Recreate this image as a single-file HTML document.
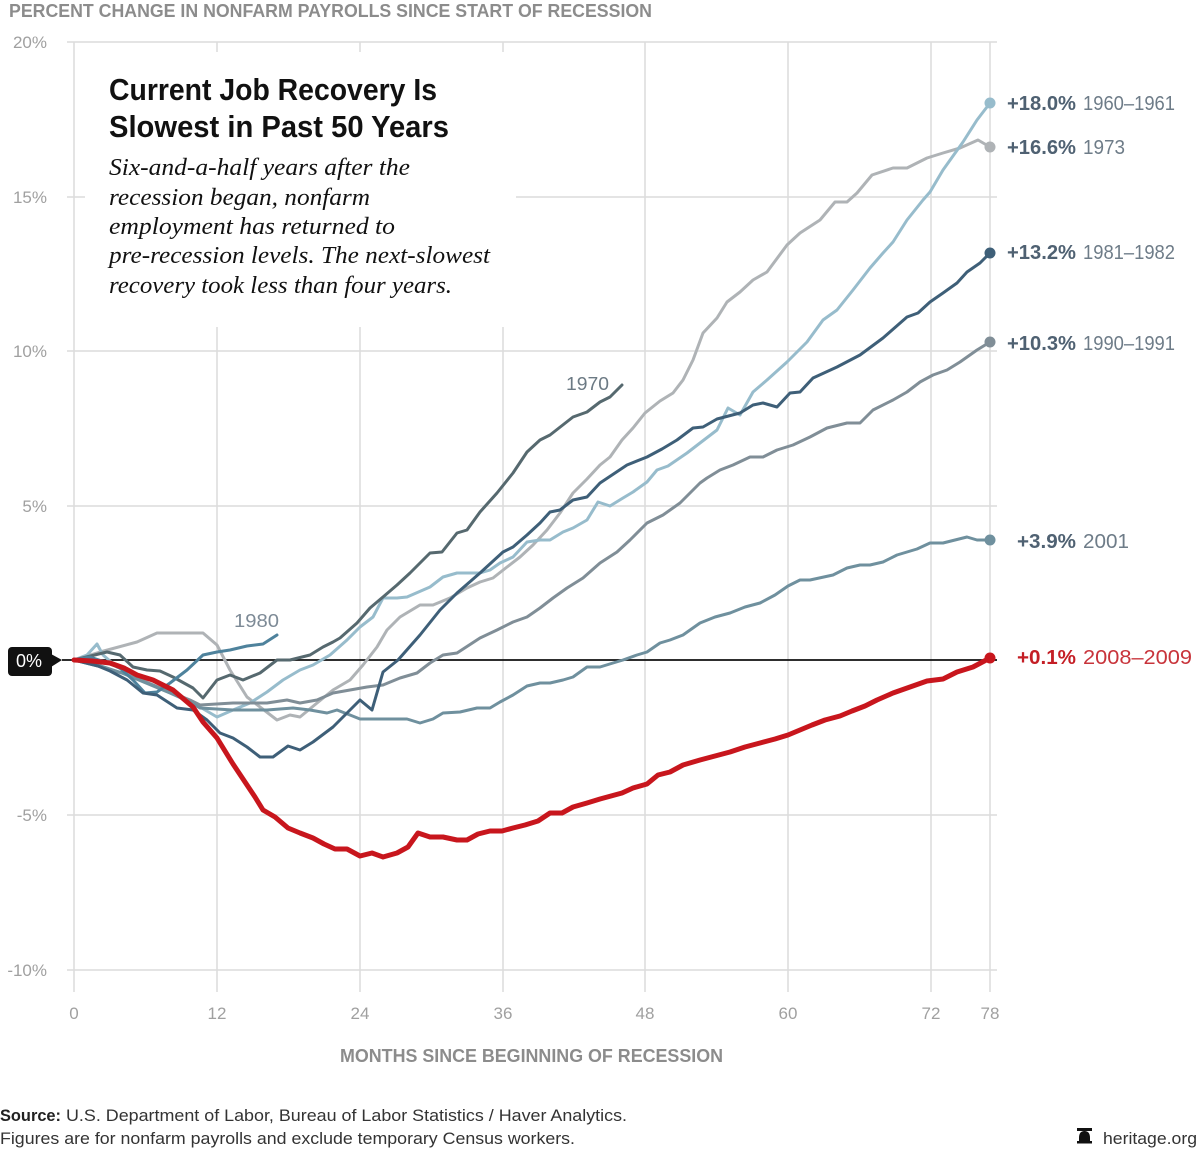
<!DOCTYPE html>
<html>
<head>
<meta charset="utf-8">
<style>
  html, body { margin: 0; padding: 0; background: #ffffff; }
  svg { display: block; }
  text { font-family: "Liberation Sans", "DejaVu Sans", sans-serif; }
  .serif { font-family: "Liberation Serif", "DejaVu Serif", serif; }
</style>
</head>
<body>
<svg width="1200" height="1151" viewBox="0 0 1200 1151" xmlns="http://www.w3.org/2000/svg">
  <rect x="0" y="0" width="1200" height="1151" fill="#ffffff"/>

  <!-- Header -->
  <text x="9" y="17" font-size="18" font-weight="bold" fill="#8c8c8c" textLength="643" lengthAdjust="spacingAndGlyphs">PERCENT CHANGE IN NONFARM PAYROLLS SINCE START OF RECESSION</text>

  <!-- Horizontal gridlines -->
  <g stroke="#dcdcdc" stroke-width="1.5">
    <line x1="67" y1="42" x2="997" y2="42"/>
    <line x1="67" y1="197" x2="997" y2="197"/>
    <line x1="67" y1="351" x2="997" y2="351"/>
    <line x1="67" y1="506" x2="997" y2="506"/>
    <line x1="67" y1="815" x2="997" y2="815"/>
    <line x1="67" y1="970" x2="997" y2="970"/>
  </g>
  <!-- Vertical gridlines -->
  <g stroke="#dcdcdc" stroke-width="1.5">
    <line x1="74" y1="42" x2="74" y2="992"/>
    <line x1="217" y1="42" x2="217" y2="992"/>
    <line x1="360" y1="42" x2="360" y2="992"/>
    <line x1="503" y1="42" x2="503" y2="992"/>
    <line x1="645" y1="42" x2="645" y2="992"/>
    <line x1="788" y1="42" x2="788" y2="992"/>
    <line x1="931" y1="42" x2="931" y2="992"/>
    <line x1="990" y1="42" x2="990" y2="992"/>
  </g>

  <!-- Title box (white, covers grid) -->
  <rect x="85" y="52" width="431" height="275" fill="#ffffff"/>

  <!-- Title -->
  <text x="109" y="100" font-size="31" font-weight="bold" fill="#111111" textLength="328" lengthAdjust="spacingAndGlyphs">Current Job Recovery Is</text>
  <text x="109" y="137" font-size="31" font-weight="bold" fill="#111111" textLength="340" lengthAdjust="spacingAndGlyphs">Slowest in Past 50 Years</text>
  <g class="serif" font-size="24" font-style="italic" fill="#111111">
    <text class="serif" x="109" y="175" textLength="301" lengthAdjust="spacingAndGlyphs">Six-and-a-half years after the</text>
    <text class="serif" x="109" y="205" textLength="261" lengthAdjust="spacingAndGlyphs">recession began, nonfarm</text>
    <text class="serif" x="109" y="234" textLength="286" lengthAdjust="spacingAndGlyphs">employment has returned to</text>
    <text class="serif" x="109" y="263" textLength="381" lengthAdjust="spacingAndGlyphs">pre-recession levels. The next-slowest</text>
    <text class="serif" x="109" y="293" textLength="343" lengthAdjust="spacingAndGlyphs">recovery took less than four years.</text>
  </g>

  <!-- Y axis labels -->
  <g font-size="17" fill="#a0a0a0" text-anchor="end">
    <text x="47" y="48">20%</text>
    <text x="47" y="203">15%</text>
    <text x="47" y="357">10%</text>
    <text x="47" y="512">5%</text>
    <text x="47" y="821">-5%</text>
    <text x="47" y="976">-10%</text>
  </g>

  <!-- X axis labels -->
  <g font-size="17" fill="#a0a0a0" text-anchor="middle">
    <text x="74" y="1019">0</text>
    <text x="217" y="1019">12</text>
    <text x="360" y="1019">24</text>
    <text x="503" y="1019">36</text>
    <text x="645" y="1019">48</text>
    <text x="788" y="1019">60</text>
    <text x="931" y="1019">72</text>
    <text x="990" y="1019">78</text>
  </g>
  <text x="340" y="1062" font-size="18" font-weight="bold" fill="#8c8c8c" textLength="383" lengthAdjust="spacingAndGlyphs">MONTHS SINCE BEGINNING OF RECESSION</text>

  <!-- Zero line -->
  <line x1="62" y1="660" x2="997" y2="660" stroke="#111111" stroke-width="1.8"/>
  <!-- 0% badge -->
  <rect x="8" y="647" width="44" height="29" rx="4" ry="4" fill="#111111"/>
  <polygon points="51,654 62,660 51,667" fill="#111111"/>
  <text x="29" y="667" font-size="18" fill="#ffffff" text-anchor="middle">0%</text>

  <!-- Series -->
  <g fill="none" stroke-linejoin="round" stroke-linecap="round" stroke-width="3">
    <!-- 1973 -->
    <polyline stroke="#afb3b6" points="74,660 100,652 137,642 157,633 203,633 217,645 230,670 247,697 277,720 290,715 300,717 317,703 333,690 350,680 363,665 377,647 387,630 400,617 420,605 433,605 450,598 467,588 480,582 493,578 507,567 520,557 533,545 547,530 560,513 573,493 587,479 600,465 610,457 622,440 633,428 645,413 660,401 673,393 683,380 693,360 703,333 717,318 727,302 740,292 753,280 767,272 787,245 800,233 820,220 835,202 847,202 857,193 872,175 893,168 907,168 927,158 943,153 960,148 978,140 990,147"/>
    <!-- 1960-1961 -->
    <polyline stroke="#97bccc" points="74,660 87,655 97,644 103,655 117,667 133,675 150,680 167,687 183,697 200,707 217,717 233,710 250,703 267,692 283,680 300,670 313,665 330,655 347,640 360,627 373,617 383,598 397,598 407,597 430,587 443,577 457,573 480,573 490,570 500,563 513,557 527,542 540,540 550,540 563,532 573,528 587,520 598,502 610,506 623,498 633,492 647,482 657,470 668,466 687,453 700,443 717,430 728,408 740,415 753,392 767,380 787,362 807,342 823,320 837,310 853,290 870,268 883,253 893,242 907,220 923,200 930,192 943,170 963,142 977,120 990,103"/>
    <!-- 1990-1991 -->
    <polyline stroke="#808e97" points="74,660 98,666 122,673 146,682 170,692 190,700 200,705 233,703 267,703 287,700 300,703 317,700 333,693 350,690 367,687 383,685 400,678 417,673 430,663 443,655 457,653 480,638 497,630 513,622 527,617 540,608 553,598 567,588 583,578 600,563 617,552 630,540 647,523 663,515 680,503 700,483 707,478 720,470 733,465 750,457 763,457 777,450 793,445 810,437 827,428 847,423 860,423 873,410 893,400 907,392 920,382 933,375 947,370 960,362 977,350 990,342"/>
    <!-- 2001 -->
    <polyline stroke="#6f909e" points="74,660 98,665 122,673 146,683 170,693 190,702 200,708 233,710 267,710 293,708 310,710 327,713 337,710 350,715 360,719 377,719 407,719 420,723 433,719 443,713 460,712 477,708 490,708 500,702 513,695 527,686 540,683 550,683 563,680 573,677 587,667 600,667 613,663 623,660 637,655 647,652 660,643 670,640 683,635 700,623 715,617 730,613 745,607 760,603 775,595 788,586 800,580 810,580 833,575 847,568 860,565 870,565 883,562 897,555 917,549 930,543 943,543 967,537 977,540 990,540"/>
    <!-- 1970 -->
    <polyline stroke="#56696f" points="74,660 107,652 120,655 133,667 147,670 160,671 173,677 193,688 203,698 217,680 230,675 243,680 260,673 277,660 290,660 310,655 323,647 333,642 340,638 357,623 370,608 383,597 397,585 410,573 430,553 442,552 457,533 467,530 480,512 497,493 513,473 527,452 540,440 550,435 573,417 587,412 600,402 610,397 622,385"/>
    <!-- 1980 -->
    <polyline stroke="#4e829c" points="74,660 90,657 105,662 120,668 133,680 145,693 157,692 170,683 187,670 203,655 217,652 230,650 247,646 263,644 277,635"/>
    <!-- 1981-1982 -->
    <polyline stroke="#3e5f78" points="74,660 86,663 98,666 110,671 127,680 143,693 157,695 177,708 193,710 207,720 220,733 233,738 247,747 260,757 273,757 288,746 300,750 313,742 333,727 347,713 360,700 372,710 383,672 398,660 420,635 440,610 457,593 480,573 503,552 513,547 527,535 540,523 550,512 560,510 573,500 587,497 600,483 612,475 627,465 647,457 662,449 677,440 693,428 703,427 717,419 740,413 753,405 763,403 777,407 790,393 800,392 813,378 837,367 860,355 883,338 907,317 918,313 930,302 943,293 957,283 967,272 980,263 990,253"/>
    <!-- 2008-2009 -->
    <polyline stroke="#c8161d" stroke-width="5" points="74,660 92,661 110,663 124,668 137,675 153,680 173,690 193,707 203,722 217,738 233,764 245,782 255,797 263,810 275,817 288,828 300,833 313,838 324,844 335,849 347,849 360,856 372,853 383,857 397,853 408,847 418,833 430,837 443,837 457,840 467,840 478,834 490,831 502,831 513,828 525,825 538,821 550,813 562,813 573,807 587,803 600,799 611,796 622,793 633,788 647,784 658,775 670,772 683,765 700,760 715,756 730,752 745,747 760,743 775,739 788,735 800,730 812,725 825,720 840,716 852,711 865,706 877,700 893,693 910,687 927,681 943,679 957,672 973,667 990,658"/>
  </g>

  <!-- Series labels -->
  <text x="566" y="390" font-size="18" fill="#6c7a84" textLength="43" lengthAdjust="spacingAndGlyphs">1970</text>
  <text x="234" y="627" font-size="18" fill="#7d8a96" textLength="45" lengthAdjust="spacingAndGlyphs">1980</text>

  <!-- End dots -->
  <circle cx="990" cy="103" r="5.5" fill="#97bccc"/>
  <circle cx="990" cy="147" r="5.5" fill="#afb3b6"/>
  <circle cx="990" cy="253" r="5.5" fill="#3e5f78"/>
  <circle cx="990" cy="342" r="5.5" fill="#808e97"/>
  <circle cx="990" cy="540" r="5.5" fill="#6f909e"/>
  <circle cx="990" cy="658" r="5.5" fill="#c8161d"/>

  <!-- End labels -->
  <g font-size="20">
    <text x="1007" y="110" font-weight="bold" fill="#4f6172" textLength="69" lengthAdjust="spacingAndGlyphs">+18.0%</text>
    <text x="1083" y="110" fill="#6e7c88" textLength="92" lengthAdjust="spacingAndGlyphs">1960–1961</text>

    <text x="1007" y="154" font-weight="bold" fill="#4f6172" textLength="69" lengthAdjust="spacingAndGlyphs">+16.6%</text>
    <text x="1083" y="154" fill="#6e7c88" textLength="42" lengthAdjust="spacingAndGlyphs">1973</text>

    <text x="1007" y="259" font-weight="bold" fill="#4f6172" textLength="69" lengthAdjust="spacingAndGlyphs">+13.2%</text>
    <text x="1083" y="259" fill="#6e7c88" textLength="92" lengthAdjust="spacingAndGlyphs">1981–1982</text>

    <text x="1007" y="350" font-weight="bold" fill="#4f6172" textLength="69" lengthAdjust="spacingAndGlyphs">+10.3%</text>
    <text x="1083" y="350" fill="#6e7c88" textLength="92" lengthAdjust="spacingAndGlyphs">1990–1991</text>

    <text x="1017" y="548" font-weight="bold" fill="#4f6172" textLength="59" lengthAdjust="spacingAndGlyphs">+3.9%</text>
    <text x="1083" y="548" fill="#6e7c88" textLength="46" lengthAdjust="spacingAndGlyphs">2001</text>

    <text x="1017" y="664" font-weight="bold" fill="#c41e25" textLength="59" lengthAdjust="spacingAndGlyphs">+0.1%</text>
    <text x="1083" y="664" fill="#c8343b" textLength="109" lengthAdjust="spacingAndGlyphs">2008–2009</text>
  </g>

  <!-- Footer -->
  <text x="0" y="1121" font-size="17" font-weight="bold" fill="#222222" textLength="61" lengthAdjust="spacingAndGlyphs">Source:</text>
  <text x="66" y="1121" font-size="17" fill="#333333" textLength="561" lengthAdjust="spacingAndGlyphs">U.S. Department of Labor, Bureau of Labor Statistics / Haver Analytics.</text>
  <text x="0" y="1144" font-size="17" fill="#333333" textLength="575" lengthAdjust="spacingAndGlyphs">Figures are for nonfarm payrolls and exclude temporary Census workers.</text>

  <!-- heritage icon -->
  <g fill="#111111">
    <rect x="1077" y="1128" width="15" height="3"/>
    <path d="M1079,1143 L1079,1138 Q1079,1131 1084.5,1131 Q1090,1131 1090,1138 L1090,1143 Z"/>
    <rect x="1077" y="1141" width="15" height="2.5"/>
  </g>
  <text x="1103" y="1144" font-size="17" fill="#333333" textLength="94" lengthAdjust="spacingAndGlyphs">heritage.org</text>
</svg>
</body>
</html>
